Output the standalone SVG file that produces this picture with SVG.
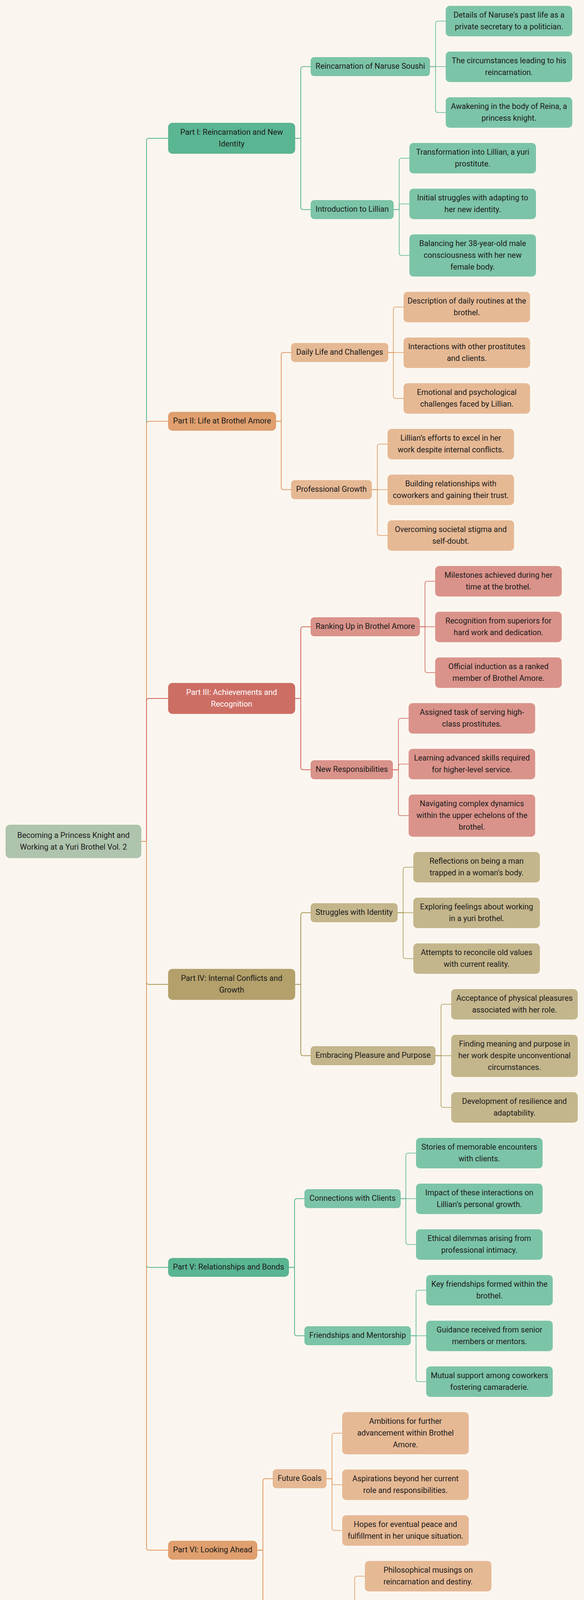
<svg xmlns="http://www.w3.org/2000/svg" width="1495" height="4323" viewBox="0 0 1495 4323">
<style>
.t{font-family:Roboto,"Liberation Sans",sans-serif;font-size:20px;fill:#1b1b1b;text-anchor:middle}
.w{fill:#ffffff}
.root{fill:#afc4ad;stroke:#9bb598;stroke-width:1}
.pg{fill:#5ab592;stroke:#4ea684;stroke-width:1}
.sg{fill:#7cc4a8;stroke:#5ab592;stroke-width:1}
.lg{fill:#7cc4a8}
.po{fill:#e09f6e;stroke:#d98f58;stroke-width:1}
.so{fill:#e6b995;stroke:#e0a06e;stroke-width:1}
.lo{fill:#e6b995}
.pr{fill:#cd6e65;stroke:#c25f55;stroke-width:1}
.sr{fill:#da938b;stroke:#cf6e66;stroke-width:1}
.lr{fill:#da938b}
.pk{fill:#b3a06a;stroke:#a8955c;stroke-width:1}
.sk{fill:#c4b68c;stroke:#b3a06a;stroke-width:1}
.lk{fill:#c4b68c}
path{fill:none;stroke-width:2}
path.l{stroke-width:1.6}
.cg{stroke:#5ab592}
.co{stroke:#e0975f}
.cr{stroke:#cf655b}
.ck{stroke:#a99556}
</style>
<rect width="1495" height="4323" fill="#faf6ef"/>
<g id="connectors">
<path class="cg" d="M361 2154H375V360Q375 354 381 354H431"/>
<path class="co" d="M361 2154H375V1084.5Q375 1078.5 381 1078.5H431"/>
<path class="cr" d="M361 2154H375V1794Q375 1788 381 1788H431"/>
<path class="ck" d="M361 2154H375V2514Q375 2520 381 2520H431"/>
<path class="cg" d="M361 2154H375V3238.5Q375 3244.5 381 3244.5H431"/>
<path class="co" d="M361 2154H375V3962.5Q375 3968.5 381 3968.5H431"/>
<path class="cg" d="M755 354H770V176.5Q770 170.5 776 170.5H796"/>
<path class="cg" d="M755 354H770V530.5Q770 536.5 776 536.5H796"/>
<path class="co" d="M706 1078.5H720V908.5Q720 902.5 726 902.5H746"/>
<path class="co" d="M706 1078.5H720V1247.5Q720 1253.5 726 1253.5H746"/>
<path class="cr" d="M755 1788H770V1610.5Q770 1604.5 776 1604.5H796"/>
<path class="cr" d="M755 1788H770V1964.5Q770 1970.5 776 1970.5H796"/>
<path class="ck" d="M755 2520H770V2342.5Q770 2336.5 776 2336.5H796"/>
<path class="ck" d="M755 2520H770V2696.5Q770 2702.5 776 2702.5H796"/>
<path class="cg" d="M739 3244.5H754V3074.5Q754 3068.5 760 3068.5H780"/>
<path class="cg" d="M739 3244.5H754V3413.5Q754 3419.5 760 3419.5H780"/>
<path class="co" d="M658 3968.5H673V3791.5Q673 3785.5 679 3785.5H699"/>
<path class="co" d="M658 3968.5H673V4145.5Q673 4151.5 679 4151.5H699"/>
<path class="cg l" d="M1100 170.5H1115V60Q1115 54 1121 54H1141"/>
<path class="cg l" d="M1100 170.5H1141"/>
<path class="cg l" d="M1100 170.5H1115V282Q1115 288 1121 288H1141"/>
<path class="cg l" d="M1007 536.5H1022V411Q1022 405 1028 405H1048"/>
<path class="cg l" d="M1007 536.5H1022V528Q1022 522 1028 522H1048"/>
<path class="cg l" d="M1007 536.5H1022V648Q1022 654 1028 654H1048"/>
<path class="co l" d="M993 902.5H1007V792Q1007 786 1013 786H1033"/>
<path class="co l" d="M993 902.5H1033"/>
<path class="co l" d="M993 902.5H1007V1014Q1007 1020 1013 1020H1033"/>
<path class="co l" d="M951 1253.5H966V1143Q966 1137 972 1137H992"/>
<path class="co l" d="M951 1253.5H992"/>
<path class="co l" d="M951 1253.5H966V1365Q966 1371 972 1371H992"/>
<path class="cr l" d="M1074 1604.5H1088V1494Q1088 1488 1094 1488H1114"/>
<path class="cr l" d="M1074 1604.5H1114"/>
<path class="cr l" d="M1074 1604.5H1088V1716Q1088 1722 1094 1722H1114"/>
<path class="cr l" d="M1005 1970.5H1020V1845Q1020 1839 1026 1839H1046"/>
<path class="cr l" d="M1005 1970.5H1020V1962Q1020 1956 1026 1956H1046"/>
<path class="cr l" d="M1005 1970.5H1020V2082Q1020 2088 1026 2088H1046"/>
<path class="ck l" d="M1017 2336.5H1032V2226Q1032 2220 1038 2220H1058"/>
<path class="ck l" d="M1017 2336.5H1058"/>
<path class="ck l" d="M1017 2336.5H1032V2448Q1032 2454 1038 2454H1058"/>
<path class="ck l" d="M1114 2702.5H1129V2577Q1129 2571 1135 2571H1155"/>
<path class="ck l" d="M1114 2702.5H1155"/>
<path class="ck l" d="M1114 2702.5H1129V2829Q1129 2835 1135 2835H1155"/>
<path class="cg l" d="M1025 3068.5H1039V2958Q1039 2952 1045 2952H1065"/>
<path class="cg l" d="M1025 3068.5H1065"/>
<path class="cg l" d="M1025 3068.5H1039V3180Q1039 3186 1045 3186H1065"/>
<path class="cg l" d="M1051 3419.5H1065V3309Q1065 3303 1071 3303H1091"/>
<path class="cg l" d="M1051 3419.5H1091"/>
<path class="cg l" d="M1051 3419.5H1065V3531Q1065 3537 1071 3537H1091"/>
<path class="co l" d="M835 3785.5H850V3675Q850 3669 856 3669H876"/>
<path class="co l" d="M835 3785.5H850V3795Q850 3801 856 3801H876"/>
<path class="co l" d="M835 3785.5H850V3912Q850 3918 856 3918H876"/>
<path class="co l" d="M893 4151.5H908V4041Q908 4035 914 4035H934"/>
<path class="co l" d="M893 4151.5H934"/>
<path class="co l" d="M893 4151.5H908V4263Q908 4269 914 4269H934"/>
</g>
<g id="root"><rect class="root" x="15" y="2112" width="346" height="84" rx="10"/><text class="t"><tspan x="188" y="2144.5">Becoming a Princess Knight and</tspan><tspan x="188" y="2174.5">Working at a Yuri Brothel Vol. 2</tspan></text></g>
<g id="part1"><rect class="pg" x="431" y="315" width="324" height="78" rx="10"/><text class="t"><tspan x="593" y="345">Part I: Reincarnation and New</tspan><tspan x="593" y="375">Identity</tspan></text></g>
<g id="part1a"><rect class="sg" x="796" y="147" width="304" height="47" rx="8"/><text class="t" x="948" y="176">Reincarnation of Naruse Soushi</text></g>
<g id="leaf1a1"><rect class="lg" x="1141" y="15" width="324" height="78" rx="10"/><text class="t"><tspan x="1303" y="44.5">Details of Naruse's past life as a</tspan><tspan x="1303" y="74.5">private secretary to a politician.</tspan></text></g>
<g id="leaf1a2"><rect class="lg" x="1141" y="132" width="324" height="78" rx="10"/><text class="t"><tspan x="1303" y="161.5">The circumstances leading to his</tspan><tspan x="1303" y="191.5">reincarnation.</tspan></text></g>
<g id="leaf1a3"><rect class="lg" x="1141" y="249" width="324" height="78" rx="10"/><text class="t"><tspan x="1303" y="278.5">Awakening in the body of Reina, a</tspan><tspan x="1303" y="308.5">princess knight.</tspan></text></g>
<g id="part1b"><rect class="sg" x="796" y="513" width="211" height="47" rx="8"/><text class="t" x="901.5" y="542">Introduction to Lillian</text></g>
<g id="leaf1b1"><rect class="lg" x="1048" y="366" width="324" height="78" rx="10"/><text class="t"><tspan x="1210" y="395.5">Transformation into Lillian, a yuri</tspan><tspan x="1210" y="425.5">prostitute.</tspan></text></g>
<g id="leaf1b2"><rect class="lg" x="1048" y="483" width="324" height="78" rx="10"/><text class="t"><tspan x="1210" y="512.5">Initial struggles with adapting to</tspan><tspan x="1210" y="542.5">her new identity.</tspan></text></g>
<g id="leaf1b3"><rect class="lg" x="1048" y="600" width="324" height="108" rx="10"/><text class="t"><tspan x="1210" y="629.5">Balancing her 38-year-old male</tspan><tspan x="1210" y="659.5">consciousness with her new</tspan><tspan x="1210" y="689.5">female body.</tspan></text></g>
<g id="part2"><rect class="po" x="431" y="1055" width="275" height="47" rx="10"/><text class="t" x="568.5" y="1084">Part II: Life at Brothel Amore</text></g>
<g id="part2a"><rect class="so" x="746" y="879" width="247" height="47" rx="8"/><text class="t" x="869.5" y="908">Daily Life and Challenges</text></g>
<g id="leaf2a1"><rect class="lo" x="1033" y="747" width="324" height="78" rx="10"/><text class="t"><tspan x="1195" y="776.5">Description of daily routines at the</tspan><tspan x="1195" y="806.5">brothel.</tspan></text></g>
<g id="leaf2a2"><rect class="lo" x="1033" y="864" width="324" height="78" rx="10"/><text class="t"><tspan x="1195" y="893.5">Interactions with other prostitutes</tspan><tspan x="1195" y="923.5">and clients.</tspan></text></g>
<g id="leaf2a3"><rect class="lo" x="1033" y="981" width="324" height="78" rx="10"/><text class="t"><tspan x="1195" y="1010.5">Emotional and psychological</tspan><tspan x="1195" y="1040.5">challenges faced by Lillian.</tspan></text></g>
<g id="part2b"><rect class="so" x="746" y="1230" width="205" height="47" rx="8"/><text class="t" x="848.5" y="1259">Professional Growth</text></g>
<g id="leaf2b1"><rect class="lo" x="992" y="1098" width="324" height="78" rx="10"/><text class="t"><tspan x="1154" y="1127.5">Lillian’s efforts to excel in her</tspan><tspan x="1154" y="1157.5">work despite internal conflicts.</tspan></text></g>
<g id="leaf2b2"><rect class="lo" x="992" y="1215" width="324" height="78" rx="10"/><text class="t"><tspan x="1154" y="1244.5">Building relationships with</tspan><tspan x="1154" y="1274.5">coworkers and gaining their trust.</tspan></text></g>
<g id="leaf2b3"><rect class="lo" x="992" y="1332" width="324" height="78" rx="10"/><text class="t"><tspan x="1154" y="1361.5">Overcoming societal stigma and</tspan><tspan x="1154" y="1391.5">self-doubt.</tspan></text></g>
<g id="part3"><rect class="pr" x="431" y="1749" width="324" height="78" rx="10"/><text class="t w"><tspan x="593" y="1778.5">Part III: Achievements and</tspan><tspan x="593" y="1808.5">Recognition</tspan></text></g>
<g id="part3a"><rect class="sr" x="796" y="1581" width="278" height="47" rx="8"/><text class="t" x="935" y="1610">Ranking Up in Brothel Amore</text></g>
<g id="leaf3a1"><rect class="lr" x="1114" y="1449" width="324" height="78" rx="10"/><text class="t"><tspan x="1276" y="1478.5">Milestones achieved during her</tspan><tspan x="1276" y="1508.5">time at the brothel.</tspan></text></g>
<g id="leaf3a2"><rect class="lr" x="1114" y="1566" width="324" height="78" rx="10"/><text class="t"><tspan x="1276" y="1595.5">Recognition from superiors for</tspan><tspan x="1276" y="1625.5">hard work and dedication.</tspan></text></g>
<g id="leaf3a3"><rect class="lr" x="1114" y="1683" width="324" height="78" rx="10"/><text class="t"><tspan x="1276" y="1712.5">Official induction as a ranked</tspan><tspan x="1276" y="1742.5">member of Brothel Amore.</tspan></text></g>
<g id="part3b"><rect class="sr" x="796" y="1947" width="209" height="47" rx="8"/><text class="t" x="900.5" y="1976">New Responsibilities</text></g>
<g id="leaf3b1"><rect class="lr" x="1046" y="1800" width="324" height="78" rx="10"/><text class="t"><tspan x="1208" y="1829.5">Assigned task of serving high-</tspan><tspan x="1208" y="1859.5">class prostitutes.</tspan></text></g>
<g id="leaf3b2"><rect class="lr" x="1046" y="1917" width="324" height="78" rx="10"/><text class="t"><tspan x="1208" y="1946.5">Learning advanced skills required</tspan><tspan x="1208" y="1976.5">for higher-level service.</tspan></text></g>
<g id="leaf3b3"><rect class="lr" x="1046" y="2034" width="324" height="108" rx="10"/><text class="t"><tspan x="1208" y="2063.5">Navigating complex dynamics</tspan><tspan x="1208" y="2093.5">within the upper echelons of the</tspan><tspan x="1208" y="2123.5">brothel.</tspan></text></g>
<g id="part4"><rect class="pk" x="431" y="2481" width="324" height="78" rx="10"/><text class="t"><tspan x="593" y="2510.5">Part IV: Internal Conflicts and</tspan><tspan x="593" y="2540.5">Growth</tspan></text></g>
<g id="part4a"><rect class="sk" x="796" y="2313" width="221" height="47" rx="8"/><text class="t" x="906.5" y="2342">Struggles with Identity</text></g>
<g id="leaf4a1"><rect class="lk" x="1058" y="2181" width="324" height="78" rx="10"/><text class="t"><tspan x="1220" y="2210.5">Reflections on being a man</tspan><tspan x="1220" y="2240.5">trapped in a woman’s body.</tspan></text></g>
<g id="leaf4a2"><rect class="lk" x="1058" y="2298" width="324" height="78" rx="10"/><text class="t"><tspan x="1220" y="2327.5">Exploring feelings about working</tspan><tspan x="1220" y="2357.5">in a yuri brothel.</tspan></text></g>
<g id="leaf4a3"><rect class="lk" x="1058" y="2415" width="324" height="78" rx="10"/><text class="t"><tspan x="1220" y="2444.5">Attempts to reconcile old values</tspan><tspan x="1220" y="2474.5">with current reality.</tspan></text></g>
<g id="part4b"><rect class="sk" x="796" y="2679" width="318" height="47" rx="8"/><text class="t" x="955" y="2708">Embracing Pleasure and Purpose</text></g>
<g id="leaf4b1"><rect class="lk" x="1155" y="2532" width="324" height="78" rx="10"/><text class="t"><tspan x="1317" y="2561.5">Acceptance of physical pleasures</tspan><tspan x="1317" y="2591.5">associated with her role.</tspan></text></g>
<g id="leaf4b2"><rect class="lk" x="1155" y="2649" width="324" height="108" rx="10"/><text class="t"><tspan x="1317" y="2678.5">Finding meaning and purpose in</tspan><tspan x="1317" y="2708.5">her work despite unconventional</tspan><tspan x="1317" y="2738.5">circumstances.</tspan></text></g>
<g id="leaf4b3"><rect class="lk" x="1155" y="2796" width="324" height="78" rx="10"/><text class="t"><tspan x="1317" y="2825.5">Development of resilience and</tspan><tspan x="1317" y="2855.5">adaptability.</tspan></text></g>
<g id="part5"><rect class="pg" x="431" y="3221" width="308" height="47" rx="10"/><text class="t" x="585" y="3250">Part V: Relationships and Bonds</text></g>
<g id="part5a"><rect class="sg" x="780" y="3045" width="245" height="47" rx="8"/><text class="t" x="902.5" y="3074">Connections with Clients</text></g>
<g id="leaf5a1"><rect class="lg" x="1065" y="2913" width="324" height="78" rx="10"/><text class="t"><tspan x="1227" y="2942.5">Stories of memorable encounters</tspan><tspan x="1227" y="2972.5">with clients.</tspan></text></g>
<g id="leaf5a2"><rect class="lg" x="1065" y="3030" width="324" height="78" rx="10"/><text class="t"><tspan x="1227" y="3059.5">Impact of these interactions on</tspan><tspan x="1227" y="3089.5">Lillian’s personal growth.</tspan></text></g>
<g id="leaf5a3"><rect class="lg" x="1065" y="3147" width="324" height="78" rx="10"/><text class="t"><tspan x="1227" y="3176.5">Ethical dilemmas arising from</tspan><tspan x="1227" y="3206.5">professional intimacy.</tspan></text></g>
<g id="part5b"><rect class="sg" x="780" y="3396" width="271" height="47" rx="8"/><text class="t" x="915.5" y="3425">Friendships and Mentorship</text></g>
<g id="leaf5b1"><rect class="lg" x="1091" y="3264" width="324" height="78" rx="10"/><text class="t"><tspan x="1253" y="3293.5">Key friendships formed within the</tspan><tspan x="1253" y="3323.5">brothel.</tspan></text></g>
<g id="leaf5b2"><rect class="lg" x="1091" y="3381" width="324" height="78" rx="10"/><text class="t"><tspan x="1253" y="3410.5">Guidance received from senior</tspan><tspan x="1253" y="3440.5">members or mentors.</tspan></text></g>
<g id="leaf5b3"><rect class="lg" x="1091" y="3498" width="324" height="78" rx="10"/><text class="t"><tspan x="1253" y="3527.5">Mutual support among coworkers</tspan><tspan x="1253" y="3557.5">fostering camaraderie.</tspan></text></g>
<g id="part6"><rect class="po" x="431" y="3945" width="227" height="47" rx="10"/><text class="t" x="544.5" y="3974">Part VI: Looking Ahead</text></g>
<g id="part6a"><rect class="so" x="699" y="3762" width="136" height="47" rx="8"/><text class="t" x="767" y="3791">Future Goals</text></g>
<g id="leaf6a1"><rect class="lo" x="876" y="3615" width="324" height="108" rx="10"/><text class="t"><tspan x="1038" y="3644.5">Ambitions for further</tspan><tspan x="1038" y="3674.5">advancement within Brothel</tspan><tspan x="1038" y="3704.5">Amore.</tspan></text></g>
<g id="leaf6a2"><rect class="lo" x="876" y="3762" width="324" height="78" rx="10"/><text class="t"><tspan x="1038" y="3791.5">Aspirations beyond her current</tspan><tspan x="1038" y="3821.5">role and responsibilities.</tspan></text></g>
<g id="leaf6a3"><rect class="lo" x="876" y="3879" width="324" height="78" rx="10"/><text class="t"><tspan x="1038" y="3908.5">Hopes for eventual peace and</tspan><tspan x="1038" y="3938.5">fulfillment in her unique situation.</tspan></text></g>
<g id="part6b"><rect class="so" x="699" y="4128" width="194" height="47" rx="8"/><text class="t" x="796" y="4157">Reflections on Fate</text></g>
<g id="leaf6b1"><rect class="lo" x="934" y="3996" width="324" height="78" rx="10"/><text class="t"><tspan x="1096" y="4025.5">Philosophical musings on</tspan><tspan x="1096" y="4055.5">reincarnation and destiny.</tspan></text></g>
<g id="leaf6b2"><rect class="lo" x="934" y="4113" width="324" height="78" rx="10"/><text class="t"><tspan x="1096" y="4142.5">Gratitude for second chances</tspan><tspan x="1096" y="4172.5">despite challenging conditions.</tspan></text></g>
<g id="leaf6b3"><rect class="lo" x="934" y="4230" width="324" height="78" rx="10"/><text class="t"><tspan x="1096" y="4259.5">Determination to make the most</tspan><tspan x="1096" y="4289.5">of her new life.</tspan></text></g>
</svg>
